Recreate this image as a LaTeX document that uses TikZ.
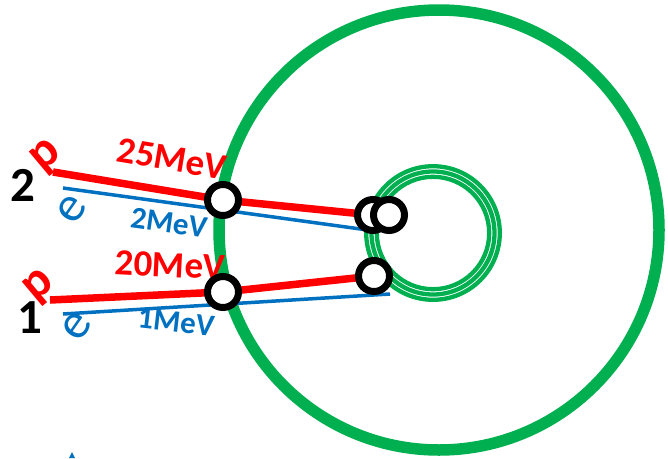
\documentclass[tikz,border=0pt]{standalone}
\usepackage{fontspec}
\setmainfont{Carlito}
\definecolor{pgreen}{HTML}{00B050}
\definecolor{pred}{HTML}{FF0000}
\definecolor{pblue}{HTML}{0070C0}
\begin{document}
\begin{tikzpicture}[x=1pt,y=-1pt,
  proton/.style={draw=pred,line width=7.5pt},
  electron/.style={draw=pblue,line width=3.5pt},
  hit/.style={circle,draw=black,fill=white,line width=7pt,minimum size=31pt,inner sep=0pt},
  redlab/.style={text=pred,font=\bfseries\fontsize{37}{37}\selectfont,inner sep=0pt},
  bluelab/.style={text=pblue,font=\bfseries\fontsize{31}{31}\selectfont,inner sep=0pt},
  numlab/.style={text=black,font=\bfseries\fontsize{49}{49}\selectfont,inner sep=0pt},
  plab/.style={text=pred,font=\bfseries\fontsize{50}{50}\selectfont,inner sep=0pt,rotate=40},
  elab/.style={text=pblue,font=\fontsize{50}{50}\selectfont,inner sep=0pt,rotate=55},
  ring/.style={draw=pgreen,line width=4.3pt}]
\useasboundingbox (0,0) rectangle (668,458);
% detector
\draw[draw=pgreen,line width=11.5pt] (439,230) circle[radius=220];
\coordinate (core) at (433,233);
\draw[ring] (core) circle[radius=66.8];
\draw[ring] (core) circle[radius=61.5];
\draw[ring] (core) circle[radius=56.2];
% hit positions
\coordinate (c2a) at (223,200);
\coordinate (c2b) at (373,215);
\coordinate (c2c) at (389,215);
\coordinate (c1a) at (223,292);
\coordinate (c1b) at (374,276);
% tracks
\coordinate (p2s) at (53,172);
\coordinate (e2s) at (63,188);
\coordinate (e2e) at (375,231);
\coordinate (p1s) at (50,300);
\coordinate (e1s) at (63,314);
\coordinate (e1e) at (390,294);
\draw[electron] (e2s) -- (e2e);
\draw[electron] (e1s) -- (e1e);
\draw[proton] (p2s) -- (c2a) -- (c2b);
\draw[proton] (p1s) -- (c1a) -- (c1b);
% labels
\node[redlab,rotate=-9.5] (t25) at (172,159) {25MeV};
\node[bluelab,rotate=-8] (t2) at (169,223) {2MeV};
\node[redlab,rotate=-3] (t20) at (170,265) {20MeV};
\node[bluelab,rotate=-6.5] (t1) at (176,322) {1MeV};
\node[numlab] (n2) at (23,185) {2};
\node[numlab] (n1) at (30,318) {1};
\node[plab] (pp2) at (47,157) {p};
\node[plab] (pp1) at (40,287) {p};
\node[elab] (ee2) at (72,209) {e};
\node[elab] (ee1) at (77,326) {e};
% hits
\node[hit] (h2a) at (c2a) {};
\node[hit] (h2b) at (c2b) {};
\node[hit] (h2c) at (c2c) {};
\node[hit] (h1a) at (c1a) {};
\node[hit] (h1b) at (c1b) {};
% small mark at bottom
\fill[pblue] (69,458) -- (72,452) -- (75,458) -- cycle;
\end{tikzpicture}
\end{document}
